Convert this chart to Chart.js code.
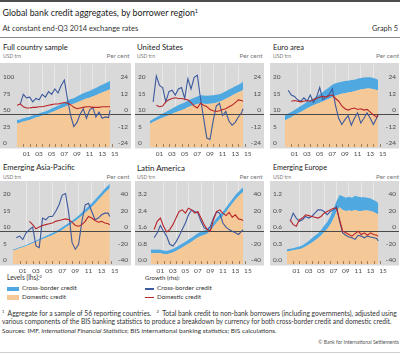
<!DOCTYPE html>
<html><head><meta charset="utf-8">
<script src="https://cdn.jsdelivr.net/npm/chart.js@4.4.1/dist/chart.umd.min.js"></script>
<style>
html,body{margin:0;padding:0;background:#fff;}
#root{position:relative;width:400px;height:355px;overflow:hidden;font-family:Lato,'Open Sans',sans-serif;}
.t{position:absolute;white-space:nowrap;line-height:1;}
.t sup{font-size:62%;vertical-align:0;position:relative;top:-0.55em;line-height:0;}
.rule{position:absolute;left:0;width:400px;}
canvas{position:absolute;display:block;}
.sw{position:absolute;}
</style></head><body><div id="root"></div>
<script>
// ---------- data ----------
const DATES = [2000,2000.5,2001,2001.5,2002,2002.5,2003,2003.5,2004,2004.5,2005,2005.5,2006,2006.5,2007,2007.5,2008,2008.5,2009,2009.5,2010,2010.5,2011,2011.5,2012,2012.5,2013,2013.5,2014,2014.5,2014.75];

const GRID_YEARS = [2002,2004,2006,2008,2010,2012,2014];
const YEAR_MARKS = [2001,2002,2003,2004,2005,2006,2007,2008,2009,2010,2011,2012,2013,2014,2015];
const X_LABELS = ['01','03','05','07','09','11','13','15'];
const X_LABEL_POS = [2001.5,2003.5,2005.5,2007.5,2009.5,2011.5,2013.5,2015.5];

const LHS_TICKS_FCS = [0,25,50,75,100];
const LHS_TICKS_20 = [0,5,10,15,20];
const LHS_TICKS_LA = [0,0.8,1.6,2.4,3.2];
const LHS_TICKS_EE = [0,0.3,0.6,0.9,1.2];
const RHS_TICKS_24 = [-24,-12,0,12,24];
const RHS_TICKS_40 = [-40,-20,0,20,40];

// Full country sample
const FCS_DOM   = [36,37,39,40,41,43,45,46,48,49,51,53,55,57,59,61,63,65,66,68,70,72,74,75,77,79,81,83,85,87,88];
const FCS_CROSS = [5,5,5,5,5,5,5,5,5,5,5.5,5.5,6,6,6.5,7,7.5,8,8.5,9,9.5,10,10,10.5,11,11,11.5,12,12,12.5,12.5];
const FCS_XB_GROWTH  = [null,7,14.5,12,12.5,9,11.5,10.5,14.5,12.5,16.5,14.5,18.5,15.5,21,25,11,-1,-9,-6,0,4,-3,3,5,-2,1.5,-3,-2,-2.5,3];
const FCS_DOM_GROWTH = [6.5,7.5,5.5,4.5,4.5,5,5,5.5,5.5,6,6.5,7,7.5,7.5,8,8.5,8,7,5,4,4.5,5,5.5,5.5,5,5,5,5.5,5.5,5.5,5.5];

// United States
const US_DOM   = [7.1,7.6,8.1,8.5,8.9,9.3,9.7,10.1,10.5,10.9,11.2,11.6,12.1,12.5,12.8,13.1,13.3,13.2,13.1,13.2,13.3,13.5,13.8,14.2,14.7,15.2,15.7,16.2,16.7,17.1,17.5];
const US_CROSS = [0.8,0.9,1,1.1,1.3,1.4,1.5,1.6,1.8,1.9,2,2,2,2.1,2.2,2.3,2.5,2.5,2.5,2.5,2.5,2.4,2.3,2.3,2.3,2.3,2.3,2.3,2.3,2.4,2.5];
const US_XB_GROWTH  = [null,9,28,21,19.5,9,16.5,17.5,14,18.5,19.5,11.5,26,18.5,27,28.5,11.5,-3,-17.5,-18.5,-5,6,8,-1,2,-5,-8,-6,-2,1,4];
const US_DOM_GROWTH = [null,null,6.5,5.5,6,9,10.5,11.5,12,11.5,11.5,11,10.5,8.5,6,4.5,8,6.5,5.5,3.5,2.5,2,2.5,3.5,4,5.5,6.5,8.5,10.5,10,9.5];

// Euro area
const EA_DOM   = [8.1,8.6,9.1,9.7,10.2,10.7,11.2,11.8,12.3,12.7,13.1,13.5,13.9,14.3,14.7,15.2,15.6,15.9,16.2,16.4,16.6,16.8,17,17.3,17.5,17.7,17.8,17.8,17.6,17.4,17.3];
const EA_CROSS = [1.6,1.6,1.6,1.6,1.7,1.8,1.9,2,2,2.1,2.3,2.6,2.9,3.2,3.5,3.8,3.8,3.8,3.7,3.7,3.6,3.6,3.5,3.5,3.5,3.5,3.5,3.5,3.4,3.3,3.1];
const EA_XB_GROWTH  = [null,17.5,14,13,10.5,9.5,12,9.5,14,8.5,12.5,19.5,10.5,12.5,14.5,18.5,6.5,-3,-7.5,-4,-1,-8,-3,1,-6.5,-3,1,-3,-7.5,-3,-1];
const EA_DOM_GROWTH = [null,null,9.5,10,9.5,9,9.5,10,9.5,10.5,11.5,12.5,13,12.5,13.5,14,11.5,9.5,6,4,3,4,4.5,3.5,4,3,3.5,1.5,-0.5,-2,-0.5];

// Emerging Asia-Pacific
const EMA_DOM   = [4.1,4.4,4.8,5.1,5.5,5.9,6.3,6.7,7.2,7.6,8,8.4,8.8,9.3,9.8,10.4,11.1,11.7,12.4,13.1,13.9,14.7,15.6,16.5,17.4,18.4,19.5,20.6,21.7,22.6,23.2];
const EMA_CROSS = [0.3,0.3,0.3,0.3,0.3,0.35,0.4,0.4,0.45,0.5,0.55,0.6,0.65,0.7,0.75,0.8,0.8,0.8,0.8,0.85,0.9,1,1,1.1,1.1,1.2,1.2,1.2,1.3,1.3,1.3];
const EMA_XB_GROWTH  = [null,-8,-6,-10,-2,2,5,-18,-20,16,14,18,18,24,32,44,46,22,-14,-22,-16,12,32,34,24,14,16,20,22,22,18];
const EMA_DOM_GROWTH = [null,null,null,null,null,12,8,3,5,7,8,9,10,12,13,14,15,14,11,7,6,8,12,18,16,13,11,12,10,9,8];

// Latin America
const LA_DOM   = [0.54,0.53,0.54,0.52,0.49,0.47,0.51,0.56,0.64,0.72,0.81,0.9,0.99,1.08,1.19,1.29,1.37,1.42,1.47,1.62,1.82,2.03,2.18,2.33,2.54,2.74,2.94,3.14,3.3,3.45,3.5];
const LA_CROSS = [0.17,0.17,0.17,0.17,0.17,0.17,0.17,0.17,0.18,0.18,0.19,0.19,0.2,0.2,0.2,0.21,0.21,0.21,0.21,0.21,0.21,0.22,0.22,0.22,0.22,0.22,0.22,0.23,0.23,0.23,0.23];
const LA_XB_GROWTH  = [null,-8,-2,7,0,-6,-16,-18,-13,-6,2,10,20,26,24,22,12,4,2,6,16,24,22,10,5,2,0,-2,-4,0,2];
const LA_DOM_GROWTH = [null,2,12,16,6,-1,2,8,16,24,26,22,28,26,22,24,16,8,2,0,14,24,26,22,19,23,17,20,15,14,13];

// Emerging Europe
const EE_DOM   = [0.23,0.24,0.25,0.26,0.27,0.29,0.32,0.35,0.39,0.43,0.47,0.52,0.58,0.64,0.72,0.83,0.95,1.04,0.99,0.97,0.98,0.97,0.99,0.97,0.97,0.98,0.98,0.97,0.95,0.92,0.91];
const EE_CROSS = [0.04,0.04,0.04,0.045,0.05,0.055,0.06,0.07,0.08,0.085,0.09,0.1,0.12,0.13,0.15,0.17,0.2,0.22,0.25,0.24,0.25,0.24,0.26,0.26,0.25,0.24,0.23,0.23,0.22,0.22,0.2];
const EE_XB_GROWTH  = [null,12,22,16,12,14,18,16,18,22,26,26,24,20,24,26,30,12,-2,-5,-7,-8,-10,-5,-6,-8,-6,-7,-8,-9,-12];
const EE_DOM_GROWTH = [null,14,8,6,14,16,20,19,18,17,16,18,22,24,26,28,28,14,0,-2,-4,-6,-3,0,-4,-2,-5,-2,-4,-5,-6];

// ---------- styles ----------
const COL = {bg:'#d9d9d9', dom:'#f5c897', cross:'#4fa9e0', xbLine:'#3d5a9e', domLine:'#b8262b', zero:'#4a4a4a', grid:'#ececec', mark:'#8c6a48'};
const TICK_FONT = {family:'Lato', size:6.5};
const TICK_COLOR = '#4a4a4a';

const root = document.getElementById('root');

function addRule(top, h, color){
  const d = document.createElement('div'); d.className='rule';
  d.style.top = top+'px'; d.style.height = h+'px'; d.style.background = color; root.appendChild(d);
}
function addText(s){
  const d = document.createElement('div'); d.className='t'; d.innerHTML = s.html;
  d.style.fontSize = s.size+'px'; d.style.color = s.color || '#222';
  root.appendChild(d);
  let size = s.size;
  if (s.w){ const m = d.getBoundingClientRect().width; if (m>0){ size = size*s.w/m; d.style.fontSize = size+'px'; } }
  d.style.top = (s.cy - 0.56*size)+'px';
  if (s.right !== undefined) d.style.right = s.right+'px'; else d.style.left = s.x+'px';
}
function addBox(x,y,w,h,color){
  const d = document.createElement('div'); d.className='sw';
  d.style.left=x+'px'; d.style.top=y+'px'; d.style.width=w+'px'; d.style.height=h+'px'; d.style.background=color;
  root.appendChild(d);
}

addRule(0, 2, '#4d4d4d');
addRule(37, 1, '#8a8a8a');
addRule(352, 1, '#cfcfcf');

const TEXTS = [
  {html:'Global bank credit aggregates, by borrower region<sup>1</sup>', x:2.5, cy:13.5, size:9.5, w:196, color:'#1a1a1a'},
  {html:'At constant end-Q3 2014 exchange rates', x:2.5, cy:29.3, size:7, w:136, color:'#333'},
  {html:'Graph 5', right:2, cy:29.3, size:7, w:26, color:'#333'},
  {html:'Full country sample', x:3, cy:48.3, size:8, w:65},
  {html:'United States', x:137, cy:48.3, size:8, w:46},
  {html:'Euro area', x:273, cy:48.3, size:8, w:31},
  {html:'Emerging Asia-Pacific', x:3, cy:168.3, size:8, w:72},
  {html:'Latin America', x:137, cy:168.3, size:8, w:48},
  {html:'Emerging Europe', x:273, cy:168.3, size:8, w:54},
  {html:'USD trn', x:3, cy:56.7, size:5.5, w:18, color:'#777'},
  {html:'USD trn', x:137, cy:56.7, size:5.5, w:18, color:'#777'},
  {html:'USD trn', x:273, cy:56.7, size:5.5, w:18, color:'#777'},
  {html:'Per cent', right:400-129.5, cy:56.7, size:5.5, w:23, color:'#777'},
  {html:'Per cent', right:400-262.5, cy:56.7, size:5.5, w:23, color:'#777'},
  {html:'Per cent', right:1, cy:56.7, size:5.5, w:23, color:'#777'},
  {html:'USD trn', x:3, cy:177.7, size:5.5, w:18, color:'#777'},
  {html:'USD trn', x:137, cy:177.7, size:5.5, w:18, color:'#777'},
  {html:'USD trn', x:273, cy:177.7, size:5.5, w:18, color:'#777'},
  {html:'Per cent', right:400-129.5, cy:177.7, size:5.5, w:23, color:'#777'},
  {html:'Per cent', right:400-262.5, cy:177.7, size:5.5, w:23, color:'#777'},
  {html:'Per cent', right:1, cy:177.7, size:5.5, w:23, color:'#777'},
  {html:'Levels (lhs):<sup>2</sup>', x:7, cy:277.5, size:6.3, w:35, color:'#333'},
  {html:'Cross-border credit', x:22, cy:289, size:6.3, w:55, color:'#333'},
  {html:'Domestic credit', x:22, cy:297.5, size:6.3, w:44, color:'#333'},
  {html:'Growth (rhs):', x:145, cy:278, size:6.3, w:35, color:'#333'},
  {html:'Cross-border credit', x:157, cy:288.7, size:6.3, w:55, color:'#333'},
  {html:'Domestic credit', x:157, cy:297.2, size:6.3, w:44, color:'#333'},
  {html:'<sup>1</sup>&nbsp; Aggregate for a sample of 56 reporting countries. &nbsp;&nbsp;<sup>2</sup>&nbsp; Total bank credit to non-bank borrowers (including governments), adjusted using', x:2, cy:313.3, size:6, w:396, color:'#333'},
  {html:'various components of the BIS banking statistics to produce a breakdown by currency for both cross-border credit and domestic credit.', x:2, cy:321.3, size:6, w:390, color:'#333'},
  {html:'Sources: IMF, <i>International Financial Statistics</i>; BIS international banking statistics; BIS calculations.', x:2, cy:332, size:6, w:275, color:'#333'},
  {html:'\u00A9 Bank for International Settlements', right:1, cy:343.3, size:5.5, w:81, color:'#555'}
];
TEXTS.forEach(addText);

addBox(7, 286.8, 12, 4.5, COL.cross);
addBox(7, 295.3, 12, 4.5, COL.dom);
addBox(145, 288, 9, 1.6, COL.xbLine);
addBox(145, 296.5, 9, 1.6, COL.domLine);

// ---------- charts ----------
const panelPlugin = {
  id:'panelDeco',
  beforeDraw(chart){
    const a = chart.chartArea, ctx = chart.ctx;
    ctx.save(); ctx.fillStyle = COL.bg; ctx.fillRect(0, 0, chart.width, a.bottom + 1.5); ctx.restore();
  },
  beforeDatasetDraw(chart, args){
    if (args.index !== 2) return;
    const a = chart.chartArea, ctx = chart.ctx, xs = chart.scales.x, y1 = chart.scales.y1;
    ctx.save();
    ctx.strokeStyle = COL.mark; ctx.lineWidth = 0.8; ctx.beginPath();
    YEAR_MARKS.forEach(v => { const px = Math.round(xs.getPixelForValue(v)) + 0.5; ctx.moveTo(px, a.bottom); ctx.lineTo(px, a.bottom - 3); });
    ctx.stroke();
    const yz = Math.round(y1.getPixelForValue(0)) + 0.5;
    ctx.strokeStyle = COL.zero; ctx.lineWidth = 1; ctx.beginPath(); ctx.moveTo(0, yz); ctx.lineTo(chart.width, yz); ctx.stroke();
    ctx.restore();
  }
};

function fmtL(dec){ return v => Number(v).toFixed(dec); }
function fmtR(v){ return v < 0 ? '\u2212' + Math.abs(v) : String(v); }

const ROW1 = 63, ROW2 = 181;
const PANELS = [
  {left:0,   top:ROW1, width:131, padTop:2, leftW:14, dom:FCS_DOM, cross:FCS_CROSS, xb:FCS_XB_GROWTH, dg:FCS_DOM_GROWTH, lt:LHS_TICKS_FCS, rt:RHS_TICKS_24, dec:0},
  {left:135, top:ROW1, width:129, padTop:2, leftW:12, dom:US_DOM, cross:US_CROSS, xb:US_XB_GROWTH, dg:US_DOM_GROWTH, lt:LHS_TICKS_20, rt:RHS_TICKS_24, dec:0},
  {left:270, top:ROW1, width:129, padTop:2, leftW:12, dom:EA_DOM, cross:EA_CROSS, xb:EA_XB_GROWTH, dg:EA_DOM_GROWTH, lt:LHS_TICKS_20, rt:RHS_TICKS_24, dec:0},
  {left:0,   top:ROW2, width:131, padTop:1, leftW:10, dom:EMA_DOM, cross:EMA_CROSS, xb:EMA_XB_GROWTH, dg:EMA_DOM_GROWTH, lt:LHS_TICKS_20, rt:RHS_TICKS_40, dec:0},
  {left:135, top:ROW2, width:129, padTop:1, leftW:13, dom:LA_DOM, cross:LA_CROSS, xb:LA_XB_GROWTH, dg:LA_DOM_GROWTH, lt:LHS_TICKS_LA, rt:RHS_TICKS_40, dec:1},
  {left:270, top:ROW2, width:129, padTop:1, leftW:14, dom:EE_DOM, cross:EE_CROSS, xb:EE_XB_GROWTH, dg:EE_DOM_GROWTH, lt:LHS_TICKS_EE, rt:RHS_TICKS_40, dec:1}
];
const AREA_H = 82, XAXIS_H = 14;

function makePanel(p){
  const h = p.padTop + AREA_H + XAXIS_H;
  const cv = document.createElement('canvas');
  cv.width = p.width; cv.height = h;
  cv.style.left = p.left+'px'; cv.style.top = p.top+'px'; cv.style.width = p.width+'px'; cv.style.height = h+'px';
  root.appendChild(cv);
  const lt = p.lt, rt = p.rt;
  const lhsMax = lt[lt.length-1] + (lt[lt.length-1]-lt[0])*0.25;
  const rhsMax = rt[rt.length-1] + (rt[rt.length-1]-rt[0])*0.25;
  const pts = arr => arr.map((v,i) => ({x:DATES[i], y:v}));
  const noPadV = s => { s.paddingTop = 0; s.paddingBottom = 0; };
  const noPadH = s => { s.paddingLeft = 0; s.paddingRight = 0; };
  new Chart(cv, {
    type:'line',
    data:{datasets:[
      {label:'Domestic credit', data:pts(p.dom), yAxisID:'y', fill:'origin', backgroundColor:COL.dom, borderWidth:0, pointRadius:0, order:2},
      {label:'Cross-border credit', data:pts(p.cross), yAxisID:'y', fill:'-1', backgroundColor:COL.cross, borderWidth:0, pointRadius:0, order:3},
      {label:'Cross-border credit growth', data:pts(p.xb), yAxisID:'y1', fill:false, borderColor:COL.xbLine, borderWidth:1.1, pointRadius:0, order:1},
      {label:'Domestic credit growth', data:pts(p.dg), yAxisID:'y1', fill:false, borderColor:COL.domLine, borderWidth:1.1, pointRadius:0, order:0}
    ]},
    options:{
      responsive:false, animation:false, devicePixelRatio:1,
      layout:{padding:{left:3, right:3, top:p.padTop, bottom:0}},
      plugins:{legend:{display:false}, tooltip:{enabled:false}},
      elements:{line:{tension:0}},
      scales:{
        x:{type:'linear', position:'bottom', min:2000, max:2016,
           afterBuildTicks:s => { s.ticks = GRID_YEARS.map(v => ({value:v})); },
           ticks:{display:false}, grid:{color:COL.grid, lineWidth:0.8, drawTicks:false}, border:{display:false},
           afterFit:s => { s.height = 0; noPadH(s); }},
        xl:{type:'linear', position:'bottom', min:2000, max:2016,
           afterBuildTicks:s => { s.ticks = X_LABEL_POS.map(v => ({value:v})); },
           ticks:{callback:v => X_LABELS[X_LABEL_POS.indexOf(v)], font:TICK_FONT, color:TICK_COLOR, padding:3, maxRotation:0, autoSkip:false},
           grid:{display:false, drawTicks:false}, border:{display:false},
           afterFit:s => { s.height = XAXIS_H; noPadH(s); }},
        y:{position:'left', stacked:true, min:0, max:lhsMax,
           afterBuildTicks:s => { s.ticks = lt.map(v => ({value:v})); },
           ticks:{crossAlign:'far', labelOffset:-4, padding:0, callback:fmtL(p.dec), font:TICK_FONT, color:TICK_COLOR, autoSkip:false},
           grid:{display:false, drawTicks:false}, border:{display:false},
           afterFit:s => { s.width = p.leftW; noPadV(s); }},
        y1:{position:'right', min:rt[0], max:rhsMax,
           afterBuildTicks:s => { s.ticks = rt.map(v => ({value:v})); },
           ticks:{crossAlign:'far', labelOffset:-4, padding:0, callback:fmtR, font:TICK_FONT, color:TICK_COLOR, autoSkip:false},
           grid:{display:false, drawTicks:false}, border:{display:false},
           afterFit:s => { s.width = 10; noPadV(s); }}
      }
    },
    plugins:[panelPlugin]
  });
}
PANELS.forEach(makePanel);
</script>
</body></html>
